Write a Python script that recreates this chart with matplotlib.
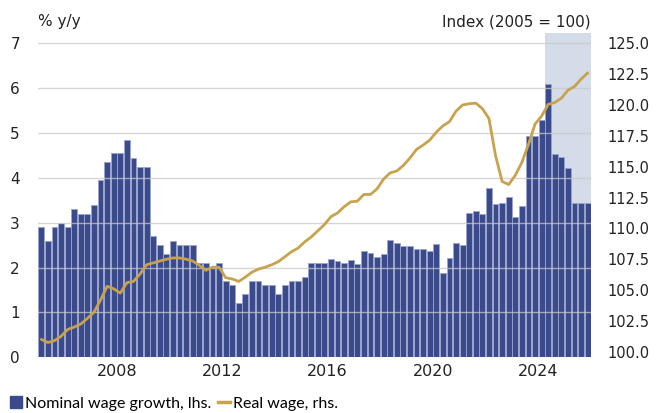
import matplotlib
matplotlib.use("Agg")
import matplotlib.pyplot as plt
import numpy as np
from matplotlib.lines import Line2D

# Quarterly data 2005Q1 - 2025Q4
start_year = 2005
nominal_wage_growth = [
    2.9, 2.6, 2.9, 3.0, 2.9, 3.3, 3.2, 3.2, 3.4, 3.95, 4.35, 4.55,
    4.55, 4.85, 4.45, 4.25, 4.25, 2.7, 2.5, 2.3, 2.6, 2.5, 2.5, 2.5,
    2.1, 2.1, 2.0, 2.1, 1.7, 1.6, 1.2, 1.4, 1.7, 1.7, 1.6, 1.6,
    1.4, 1.6, 1.7, 1.7, 1.8, 2.1, 2.1, 2.1, 2.18, 2.15, 2.1, 2.16,
    2.08, 2.36, 2.32, 2.24, 2.3, 2.61, 2.55, 2.49, 2.47, 2.42, 2.42, 2.36,
    2.52, 1.87, 2.22, 2.54, 2.5, 3.22, 3.25, 3.2, 3.77, 3.42, 3.43, 3.57,
    3.12, 3.37, 4.93, 4.93, 5.29, 6.08, 4.52, 4.47, 4.22, 3.44, 3.44, 3.44,
]
real_wage = [
    101.0, 100.75, 100.9, 101.25, 101.8, 102.0, 102.25, 102.7, 103.2, 104.2, 105.3, 105.1,
    104.75, 105.6, 105.7, 106.3, 107.05, 107.2, 107.35, 107.5, 107.6, 107.6, 107.5, 107.35,
    107.0, 106.6, 106.85, 106.85, 106.0, 105.9, 105.7, 106.05, 106.45, 106.7, 106.85, 107.05,
    107.3, 107.7, 108.1, 108.4, 108.9, 109.3, 109.8, 110.3, 110.95, 111.25, 111.75, 112.15,
    112.2, 112.75, 112.75, 113.2, 114.0, 114.5, 114.65, 115.1, 115.7, 116.4, 116.75, 117.15,
    117.8, 118.3, 118.65, 119.5, 120.0, 120.1, 120.15, 119.7, 118.9, 115.9, 113.8, 113.55,
    114.3, 115.35, 116.8, 118.45, 119.1, 120.05, 120.2, 120.55, 121.2, 121.5, 122.1, 122.6,
]
forecast_start = 2024.25
x_tick_years = [2008, 2012, 2016, 2020, 2024]
left_ticks = [0, 1, 2, 3, 4, 5, 6, 7]
right_ticks = [100.0, 102.5, 105.0, 107.5, 110.0, 112.5, 115.0, 117.5, 120.0, 122.5, 125.0]

BAR = "#3a4a8b"
BAR_EDGE = "#9aa5cf"
GOLD = "#c9a24e"
SHADE = "#d3dce8"
GRID = "#c8c8c8"

n = len(nominal_wage_growth)
x = start_year + np.arange(n) / 4 + 0.125

fig = plt.figure(figsize=(6.59, 4.13), dpi=100)
ax = fig.add_axes([0.0577, 0.1349, 0.8391, 0.7845])
ax2 = ax.twinx()

ax.axvspan(forecast_start, start_year + n / 4, color=SHADE, zorder=0, lw=0)
ax.bar(x, nominal_wage_growth, width=0.22, color=BAR, edgecolor=BAR_EDGE,
       linewidth=0.6, zorder=2)
for t in left_ticks[1:]:
    ax.axhline(t, color=GRID, lw=1.0, alpha=0.75, zorder=3)

ax.set_xlim(start_year, start_year + n / 4)
ax.set_ylim(0, 7.22)
ax.set_yticks(left_ticks)
ax.set_xticks(x_tick_years)
ax.set_xticklabels([str(y) for y in x_tick_years])

ax2.plot(x, real_wage, color=GOLD, lw=2.0, zorder=5, solid_capstyle="round")
ax2.set_ylim(99.55, 125.81)
ax2.set_yticks(right_ticks)
ax2.set_yticklabels([f"{v:.1f}" for v in right_ticks])

for a in (ax, ax2):
    for s in a.spines.values():
        s.set_visible(False)
    a.tick_params(length=0, colors="#222222")
ax.tick_params(axis="y", labelsize=11, pad=13)
ax.tick_params(axis="x", labelsize=11.5, pad=5)
ax2.tick_params(axis="y", labelsize=10.5, pad=12)

fig.text(0.0577, 0.947, "% y/y", fontsize=11, ha="left", va="center", color="#222222")
fig.text(0.8968, 0.947, "Index (2005 = 100)", fontsize=11, ha="right", va="center",
         color="#222222")

handles = [Line2D([0], [0], marker="s", markersize=8, color=BAR, lw=0),
           Line2D([0], [0], color=GOLD, lw=2.5)]
leg = fig.legend(handles, ["Nominal wage growth, lhs.", "Real wage, rhs."],
                 loc="center left", bbox_to_anchor=(-0.002, 0.022), ncol=2, frameon=False,
                 prop={"family": "Lato", "size": 11.5}, handlelength=0.75,
                 handletextpad=0.2, columnspacing=0.4, borderpad=0.2)

fig.savefig("out.png", dpi=100)
